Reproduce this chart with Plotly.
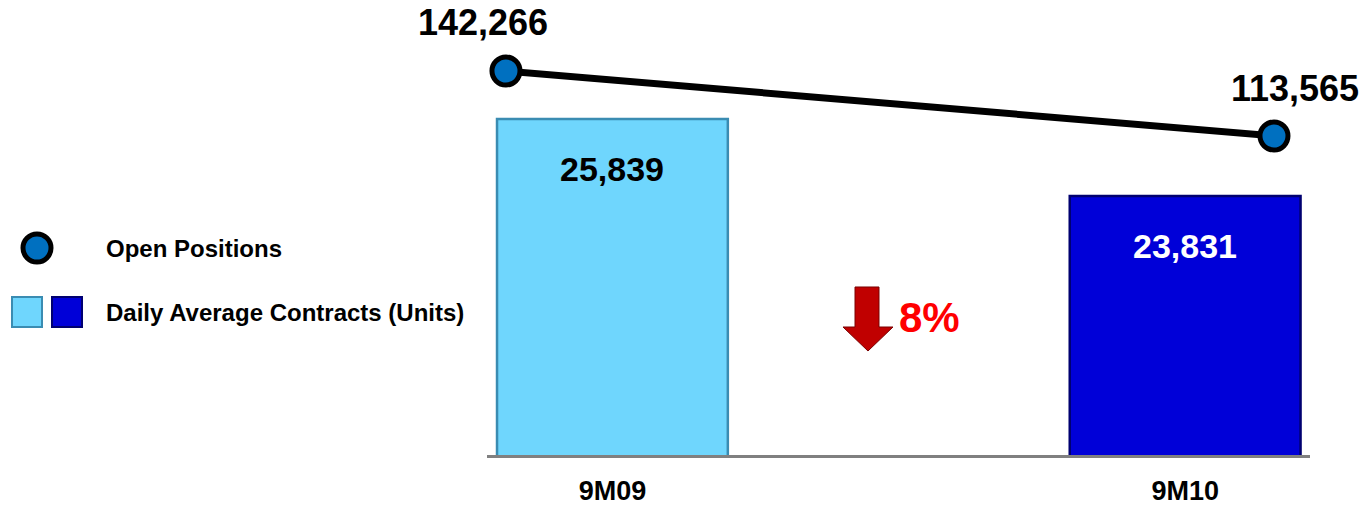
import plotly.graph_objects as go

# ---- data ----
periods = ["9M09", "9M10"]
daily_avg_contracts = [25839, 23831]
open_positions = [142266, 113565]
change_label = "8%"
legend_labels = ["Open Positions", "Daily Average Contracts (Units)"]

# ---- styles ----
bar_colors = ["#6FD6FD", "#0000D8"]
bar_edge_colors = ["#3A8CB2", "#000070"]
bar_text_colors = ["black", "white"]
FONT = "Arial, Liberation Sans, sans-serif"
NARROW = "Arial Narrow, Liberation Sans Narrow, Liberation Sans, Arial, sans-serif"

W, H = 1366, 506


def px(x):
    return x / W


def py(y):
    return 1 - y / H


fig = go.Figure()

fig.add_trace(go.Bar(
    x=periods, y=daily_avg_contracts, width=0.403,
    marker=dict(color=bar_colors, line=dict(color=bar_edge_colors, width=2.5)),
    xaxis="x", yaxis="y", hoverinfo="skip", showlegend=False,
))

fig.add_trace(go.Scatter(
    x=periods, y=open_positions, mode="lines+markers",
    line=dict(color="black", width=7),
    marker=dict(size=28, color="#0070C0", line=dict(color="black", width=5)),
    xaxis="x2", yaxis="y2", hoverinfo="skip", showlegend=False,
))

annotations = []
# line value labels
shifts = [(-23, 49), (21, 48)]
for p, v, (xs, ys) in zip(periods, open_positions, shifts):
    annotations.append(dict(
        x=p, y=v, xref="x2", yref="y2", text=f"<b>{v:,}</b>", showarrow=False,
        xshift=xs, yshift=ys, font=dict(family=FONT, size=36, color="black"),
    ))
# bar value labels
for p, v, c in zip(periods, daily_avg_contracts, bar_text_colors):
    annotations.append(dict(
        x=p, y=v, xref="x", yref="y", text=f"<b>{v:,}</b>", showarrow=False,
        yshift=-50, font=dict(family=FONT, size=34, color=c),
    ))
# change label
annotations.append(dict(
    x=px(897), y=py(317), xref="paper", yref="paper", text=f"<b>{change_label}</b>",
    showarrow=False, xanchor="left", font=dict(family=FONT, size=42, color="#FF0000"),
))
# legend texts
for lab, yy in zip(legend_labels, [248, 312]):
    annotations.append(dict(
        x=px(104), y=py(yy), xref="paper", yref="paper", text=f"<b>{lab}</b>",
        showarrow=False, xanchor="left", font=dict(family=FONT, size=24, color="black"),
    ))

shapes = []
# down arrow
pts = [(855, 287), (879, 287), (879, 327), (893, 327), (868, 351), (843, 327), (855, 327)]
path = "M " + " L ".join(f"{px(a):.5f},{py(b):.5f}" for a, b in pts) + " Z"
shapes.append(dict(type="path", path=path, xref="paper", yref="paper",
                   fillcolor="#C00000", line=dict(color="#7A0000", width=1)))
# legend circle
shapes.append(dict(type="circle", xref="paper", yref="paper",
                   x0=px(23), x1=px(51), y0=py(262), y1=py(234),
                   fillcolor="#0070C0", line=dict(color="black", width=5)))
# legend squares
for (x0, x1), fc, lc in zip([(12, 42), (52, 82)], bar_colors, bar_edge_colors):
    shapes.append(dict(type="rect", xref="paper", yref="paper",
                       x0=px(x0), x1=px(x1), y0=py(327), y1=py(297),
                       fillcolor=fc, line=dict(color=lc, width=2)))

fig.update_layout(
    width=W, height=H,
    margin=dict(l=0, r=0, t=0, b=0, autoexpand=False),
    paper_bgcolor="white", plot_bgcolor="white",
    barmode="overlay",
    showlegend=False,
    xaxis=dict(
        domain=[px(487), px(1310)], range=[-0.219, 1.218],
        type="category", categoryorder="array", categoryarray=periods,
        tickvals=periods, ticktext=[f"<b>{p}</b>" for p in periods],
        tickfont=dict(family=NARROW, size=27, color="black"),
        ticks="", ticklabelstandoff=10, automargin=False,
        showgrid=False, zeroline=False,
        showline=True, linecolor="#808080", linewidth=3,
        anchor="y",
    ),
    yaxis=dict(
        domain=[py(455), py(20)], range=[17077, 28420], automargin=False,
        visible=False, showgrid=False, zeroline=False, anchor="x",
    ),
    xaxis2=dict(
        overlaying="x", range=[-0.0247, 1.0469], type="category",
        categoryorder="array", categoryarray=periods, automargin=False,
        visible=False, showgrid=False, zeroline=False, anchor="y2",
    ),
    yaxis2=dict(
        overlaying="y", range=[-27293, 164786], automargin=False,
        visible=False, showgrid=False, zeroline=False, anchor="x2",
    ),
    annotations=annotations,
    shapes=shapes,
)

fig.write_html(
    "out.html",
    config={"displayModeBar": False},
    post_script="document.body.style.margin='0px';document.body.style.overflow='hidden';",
)
